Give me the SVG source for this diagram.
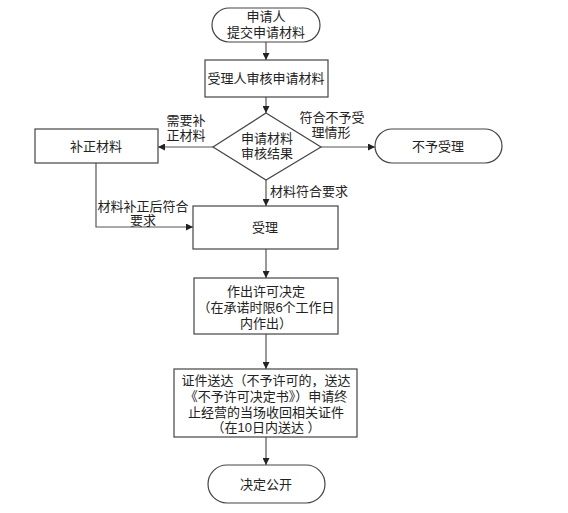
<svg xmlns="http://www.w3.org/2000/svg" width="568" height="513" viewBox="0 0 568 513">
<defs>
<marker id="arr" markerWidth="7" markerHeight="7" refX="7" refY="3.5" orient="auto" markerUnits="userSpaceOnUse">
<path d="M0,0 L7,3.5 L0,7 Z" fill="#222"/>
</marker>
<style>
.n{fill:#fff;stroke:#444;stroke-width:1.2}
.t{font-family:"Liberation Sans","Noto Sans CJK SC",sans-serif;font-size:13px;fill:#222;text-anchor:middle}
.c{fill:none;stroke:#555;stroke-width:1.2;marker-end:url(#arr)}
</style>
</defs>
<rect width="568" height="513" fill="#fff"/>
<g id="connectors">
<path class="c" d="M266,42 V60"/>
<path class="c" d="M266,97 V113"/>
<path class="c" d="M213,147 H158"/>
<path class="c" d="M321,147 H375"/>
<path class="c" d="M266,180 V206"/>
<path class="c" d="M96,163 V227 H193"/>
<path class="c" d="M266,249 V278"/>
<path class="c" d="M266,334 V369"/>
<path class="c" d="M266,437 V465"/>
<text class="t" x="186" y="125">需要补</text>
<text class="t" x="186" y="140">正材料</text>
<text class="t" x="332" y="122">符合不予受</text>
<text class="t" x="331" y="137">理情形</text>
<text class="t" x="309" y="196">材料符合要求</text>
<text class="t" x="143" y="211">材料补正后符合</text>
<text class="t" x="143" y="225">要求</text>
</g>
<g id="start">
<rect class="n" x="212" y="8" width="108" height="34" rx="17"/>
<text class="t" x="266" y="21">申请人</text>
<text class="t" x="266" y="37">提交申请材料</text>
</g>
<g id="review">
<rect class="n" x="205" y="60" width="123" height="37"/>
<text class="t" x="266" y="83">受理人审核申请材料</text>
</g>
<g id="decision">
<polygon class="n" points="266,113 321,147 266,180 213,147"/>
<text class="t" x="267" y="143">申请材料</text>
<text class="t" x="267" y="158">审核结果</text>
</g>
<g id="supplement">
<rect class="n" x="35" y="129" width="123" height="34"/>
<text class="t" x="96" y="151">补正材料</text>
</g>
<g id="reject">
<rect class="n" x="375" y="129" width="127" height="34" rx="17"/>
<text class="t" x="438" y="151">不予受理</text>
</g>
<g id="accept">
<rect class="n" x="193" y="206" width="145" height="43"/>
<text class="t" x="265" y="232">受理</text>
</g>
<g id="decide">
<rect class="n" x="194" y="278" width="144" height="56"/>
<text class="t" x="266" y="296">作出许可决定</text>
<text class="t" x="266" y="312">（在承诺时限6个工作日</text>
<text class="t" x="266" y="328">内作出）</text>
</g>
<g id="deliver">
<rect class="n" x="174" y="369" width="183" height="68"/>
<text class="t" x="266" y="385">证件送达（不予许可的，送达</text>
<text class="t" x="266" y="401">《不予许可决定书》）申请终</text>
<text class="t" x="266" y="417">止经营的当场收回相关证件</text>
<text class="t" x="266" y="432">（在10日内送达 ）</text>
</g>
<g id="publish">
<rect class="n" x="208" y="465" width="117" height="38" rx="19"/>
<text class="t" x="266" y="489">决定公开</text>
</g>
</svg>
